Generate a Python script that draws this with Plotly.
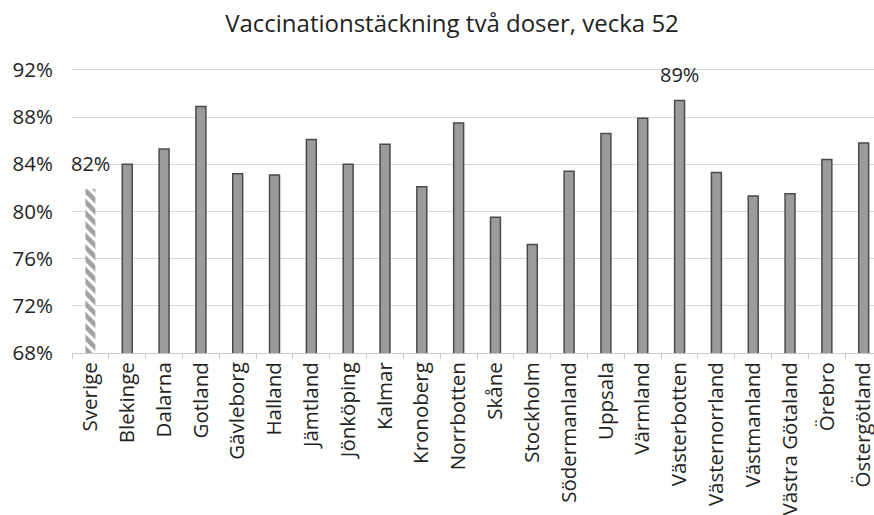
import plotly.graph_objects as go

categories = ["Sverige", "Blekinge", "Dalarna", "Gotland", "Gävleborg", "Halland", "Jämtland",
              "Jönköping", "Kalmar", "Kronoberg", "Norrbotten", "Skåne", "Stockholm",
              "Södermanland", "Uppsala", "Värmland", "Västerbotten", "Västernorrland",
              "Västmanland", "Västra Götaland", "Örebro", "Östergötland"]
values = [81.9, 84.0, 85.3, 88.9, 83.2, 83.1, 86.1, 84.0, 85.7, 82.1, 87.5, 79.5, 77.2,
          83.4, 86.6, 87.9, 89.4, 83.3, 81.3, 81.5, 84.4, 85.8]
labelled = ["Sverige", "Västerbotten"]
yticks = [68, 72, 76, 80, 84, 88, 92]

FONT = "Open Sans"
TXT = "#222222"
fills = ["white" if c == "Sverige" else "#9b9b9b" for c in categories]
lines = ["rgba(0,0,0,0)" if c == "Sverige" else "#4a4a4a" for c in categories]
shapes = ["\\" if c == "Sverige" else "" for c in categories]

fig = go.Figure(go.Bar(
    x=categories, y=values,
    width=0.27,
    marker=dict(color=fills, line=dict(color=lines, width=1.5),
                pattern=dict(shape=shapes, fgcolor="#1a1a1a", bgcolor="white", size=8, solidity=0.6)),
    hoverinfo="x+y",
))

for c, v in zip(categories, values):
    if c in labelled:
        fig.add_annotation(x=c, y=v, text=f"{round(v)}%", showarrow=False,
                           yanchor="middle", yshift=26,
                           font=dict(family=FONT, size=20, color=TXT))

fig.update_layout(
    width=874, height=515,
    margin=dict(l=72, r=0, t=64, b=162),
    paper_bgcolor="white", plot_bgcolor="white",
    showlegend=False,
    title=dict(text="Vaccinationstäckning två doser, vecka 52", x=452 / 874, xanchor="center",
               xref="container", y=1 - 24 / 515, yanchor="middle",
               font=dict(family=FONT, size=24, color=TXT)),
    font=dict(family=FONT, color=TXT),
)
fig.update_yaxes(range=[68, 92.5], tickvals=yticks, ticktext=[f"{t}%" for t in yticks],
                 showgrid=True, gridcolor="#d9d9d9", gridwidth=1, zeroline=False,
                 tickfont=dict(family=FONT, size=20.5, color=TXT), ticks="", showline=False,
                 ticklabelstandoff=18, automargin=False)
fig.update_xaxes(range=[-0.5, 21.28], tickangle=-90, tickfont=dict(family=FONT, size=20.5, color=TXT),
                 showline=True, linecolor="#c8c8c8", ticks="outside", tickson="boundaries",
                 ticklen=5, tickcolor="#c8c8c8", automargin=False)

fig.write_html("out.html", config={"displayModeBar": False},
               post_script="document.body.style.margin='0';document.body.style.overflow='hidden';")
